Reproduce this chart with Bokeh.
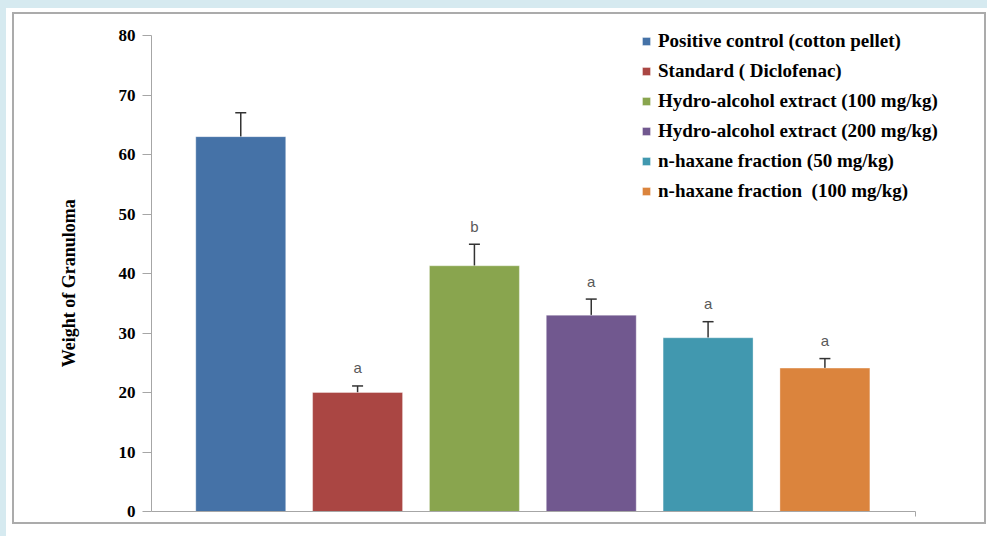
from bokeh.plotting import figure
from bokeh.layouts import column
from bokeh.models import Whisker, TeeHead, ColumnDataSource, FixedTicker
from bokeh.embed import file_html
from bokeh.resources import INLINE
from bokeh.core.properties import value

# ---- data ----
groups = [
    "Positive control (cotton pellet)",
    "Standard ( Diclofenac)",
    "Hydro-alcohol extract (100 mg/kg)",
    "Hydro-alcohol extract (200 mg/kg)",
    "n-haxane fraction (50 mg/kg)",
    "n-haxane fraction  (100 mg/kg)",
]
means = [63.0, 20.0, 41.3, 33.0, 29.2, 24.1]
errors = [4.0, 1.1, 3.6, 2.7, 2.7, 1.6]
letters = ["", "a", "b", "a", "a", "a"]
colors = ["#4572A7", "#AA4643", "#89A54E", "#71588F", "#4198AF", "#DB843D"]
y_ticks = [0, 10, 20, 30, 40, 50, 60, 70, 80]
y_title = "Weight of Granuloma"
Y_MAX = 80

xs = list(range(len(groups)))
tops = [m + e for m, e in zip(means, errors)]

src = ColumnDataSource(dict(x=xs, mean=means, top=tops, label=groups, color=colors))

lx = [x for x, l in zip(xs, letters) if l]
ly = [t for t, l in zip(tops, letters) if l]
lt = [l for l in letters if l]
lsrc = ColumnDataSource(dict(x=lx, y=ly, t=lt))

X_START, X_END = -0.764, 5.772

# the frame spans the whole panel so that the legend is not clipped;
# the axes are bounded to the real plot area
p = figure(width=970, height=508, x_range=(X_START, 6.366), y_range=(0, 83.53),
           output_backend="svg", toolbar_location=None,
           min_border_left=137, min_border_right=0,
           min_border_top=0, min_border_bottom=11)
p.border_fill_color = "white"
p.background_fill_color = "white"
p.outline_line_color = None
p.xgrid.visible = False
p.ygrid.visible = False

p.vbar(x="x", top="mean", bottom=0, width=0.77, source=src,
       fill_color="color", line_color="white", line_alpha=0.35, line_width=1,
       legend_field="label")

p.add_layout(Whisker(base="x", upper="top", lower="mean", source=src,
                     line_color="#333333", line_width=1.5,
                     upper_head=TeeHead(size=11, line_color="#333333", line_width=1.5),
                     lower_head=None))

p.text(x="x", y="y", text="t", source=lsrc, y_offset=-18,
       text_align="center", text_baseline="middle",
       text_font=value("Liberation Sans"), text_font_size="15px",
       text_color="#595959")

# axes
ya = p.yaxis[0]
ya.bounds = (0, Y_MAX)
ya.ticker = FixedTicker(ticks=y_ticks)
ya.minor_tick_line_color = None
ya.major_tick_out = 9
ya.major_tick_in = 0
ya.axis_line_color = "#a6a6a6"
ya.major_tick_line_color = "#a6a6a6"
ya.major_label_standoff = 7
ya.major_label_text_font = "Liberation Serif"
ya.major_label_text_font_style = "bold"
ya.major_label_text_font_size = "17px"
ya.major_label_text_color = "black"
# non-breaking spaces keep the title centred on the 0-80 axis, not the taller frame
ya.axis_label = y_title + "\u00a0" * 9
ya.axis_label_text_font = "Liberation Serif"
ya.axis_label_text_font_style = "bold"
ya.axis_label_text_font_size = "18px"
ya.axis_label_text_color = "black"
ya.axis_label_standoff = 37

xa = p.xaxis[0]
xa.bounds = (X_START, X_END)
xa.ticker = FixedTicker(ticks=[X_END])
xa.major_label_overrides = {X_END: ""}
xa.minor_tick_line_color = None
xa.major_tick_out = 5
xa.major_tick_in = 0
xa.axis_line_color = "#a6a6a6"
xa.major_tick_line_color = "#a6a6a6"
xa.major_label_standoff = 0

lg = p.legend[0]
lg.location = (490, 309)
lg.padding = 0
lg.margin = 0
lg.spacing = 8
lg.glyph_height = 10
lg.glyph_width = 10
lg.label_height = 22
lg.label_standoff = 7
lg.label_text_font = "Liberation Serif"
lg.label_text_font_style = "bold"
lg.label_text_font_size = "19px"
lg.label_text_color = "black"
lg.background_fill_alpha = 0
lg.border_line_color = None

framed = column(p, styles={"border": "2px solid #ababab"})
panel = column(framed, styles={"background-color": "white",
                               "padding": "4px 1px 12px 6px"})
page = column(panel, styles={"background-color": "#d6eaf0",
                             "padding": "8px 0px 0px 6px"})

open("out.html", "w").write(file_html(page, INLINE))
